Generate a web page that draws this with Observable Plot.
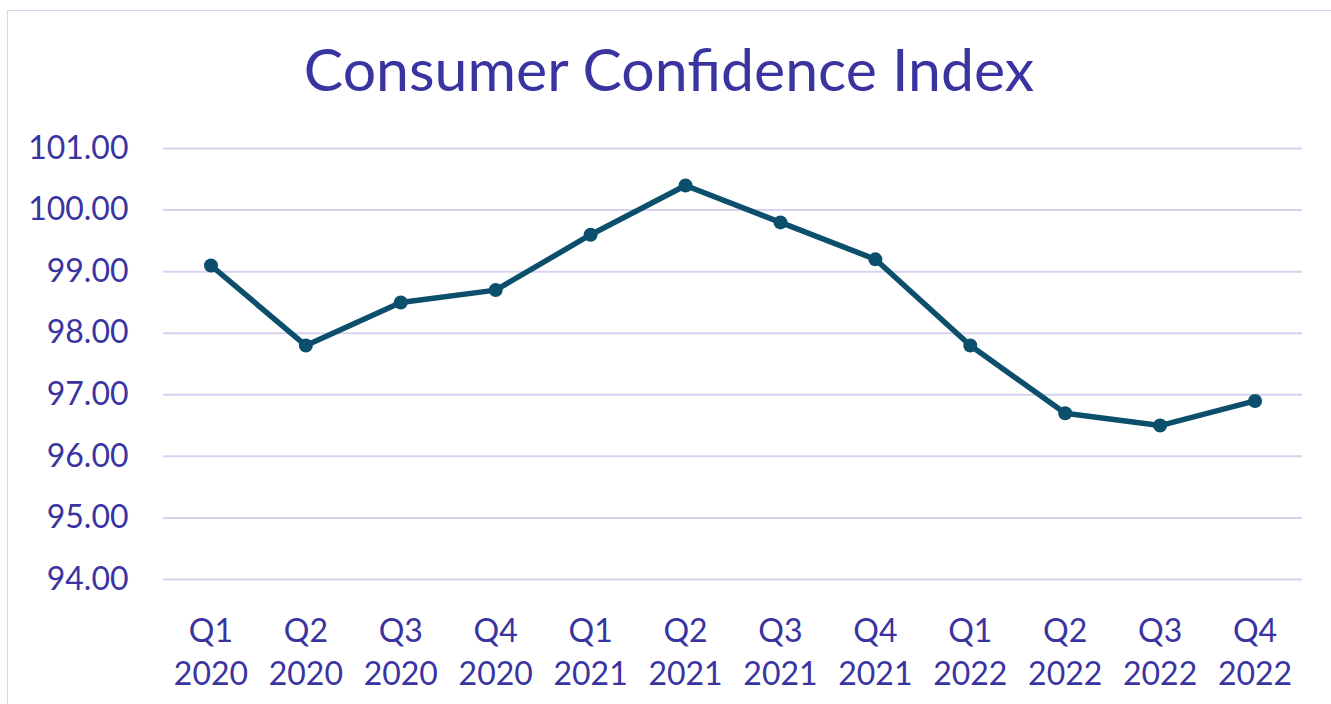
<!DOCTYPE html>
<html>
<head>
<meta charset="utf-8">
<script src="https://cdn.jsdelivr.net/npm/d3@7"></script>
<script src="https://cdn.jsdelivr.net/npm/@observablehq/plot@0.6"></script>
<style>
  html, body { margin: 0; padding: 0; background: #fff; }
  body { width: 1331px; height: 704px; position: relative; overflow: hidden; font-family: Lato, "Open Sans", sans-serif; }
  #frame { position: absolute; left: 7px; top: 10px; width: 1340px; height: 720px; border: 1px solid #d6d3f0; box-sizing: border-box; }
  #title { position: absolute; left: 0; top: 39px; width: 1338px; text-align: center; font-size: 59px; color: #3a34a0; line-height: 1; }
  #chart { position: absolute; left: 0; top: 110px; }
</style>
</head>
<body>
<div id="frame"></div>
<div id="title">Consumer Confidence Index</div>
<div id="chart"></div>
<script>
const quarters = ["Q1", "Q2", "Q3", "Q4", "Q1", "Q2", "Q3", "Q4", "Q1", "Q2", "Q3", "Q4"];
const years = ["2020", "2020", "2020", "2020", "2021", "2021", "2021", "2021", "2022", "2022", "2022", "2022"];
const values = [99.1, 97.8, 98.5, 98.7, 99.6, 100.4, 99.8, 99.2, 97.8, 96.7, 96.5, 96.9];
const yTicks = [94, 95, 96, 97, 98, 99, 100, 101];

const labels = quarters.map((q, i) => q + "\n" + years[i]);
const data = labels.map((label, i) => ({label, value: values[i]}));

const textColor = "#3a34a0";
const gridColor = "#d6d3f0";
const lineColor = "#0b4f6c";

const chart = Plot.plot({
  width: 1331,
  height: 594,
  marginLeft: 163,
  marginRight: 29,
  marginTop: 38,
  marginBottom: 125,
  style: {fontFamily: "Lato, 'Open Sans', sans-serif", fontSize: "32px", color: textColor, background: "transparent", overflow: "visible"},
  x: {type: "band", domain: labels, padding: 0, round: false},
  y: {domain: [94, 101]},
  marks: [
    Plot.gridY(yTicks, {stroke: gridColor, strokeOpacity: 1, strokeWidth: 2}),
    Plot.axisY(yTicks, {tickSize: 0, tickPadding: 35, tickFormat: d3.format(".2f"), fill: textColor, fontSize: 32, label: null}),
    Plot.axisX({tickSize: 0, tickPadding: 32, fill: textColor, fontSize: 32, lineHeight: 1.34, label: null}),
    Plot.line(data, {x: "label", y: "value", stroke: lineColor, strokeWidth: 5.5, strokeLinejoin: "round"}),
    Plot.dot(data, {x: "label", y: "value", r: 7, fill: lineColor, stroke: "none"})
  ]
});
document.getElementById("chart").appendChild(chart);
</script>
</body>
</html>
